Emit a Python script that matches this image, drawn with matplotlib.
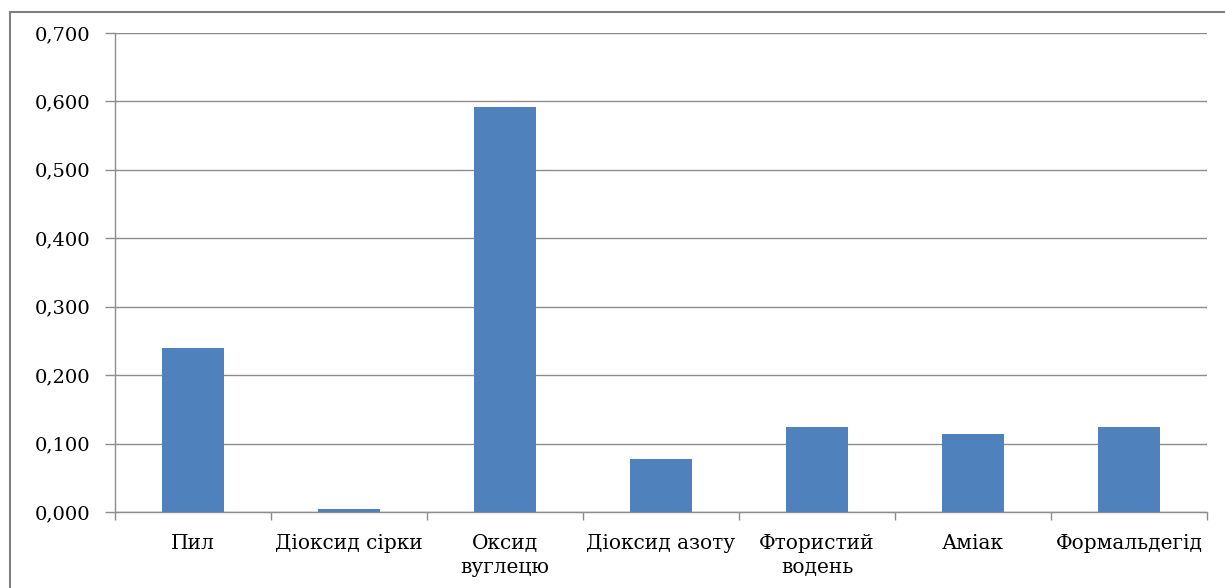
import matplotlib
matplotlib.use('Agg')
import matplotlib.pyplot as plt
import matplotlib.patches as mpatches
from matplotlib.ticker import FuncFormatter, FixedLocator

# Data
categories = ['Пил', 'Діоксид сірки', 'Оксид\nвуглецю', 'Діоксид азоту',
              'Фтористий\nводень', 'Аміак', 'Формальдегід']
values = [0.240, 0.004, 0.592, 0.077, 0.124, 0.114, 0.124]
yticks = [0.0, 0.1, 0.2, 0.3, 0.4, 0.5, 0.6, 0.7]

plt.rcParams['font.family'] = ['DejaVu Serif']

fig = plt.figure(figsize=(12.25, 5.88), dpi=100)
ax = fig.add_axes([115/1225, 1 - 512/588, (1207 - 115)/1225, (512 - 33)/588])

xpos = list(range(len(categories)))
ax.bar(xpos, values, width=0.4, color='#4F81BD', zorder=3)

ax.set_xlim(-0.5, len(categories) - 0.5)
ax.set_ylim(0, 0.7)
ax.set_yticks(yticks)
ax.yaxis.set_major_formatter(FuncFormatter(lambda v, p: ('%.3f' % v).replace('.', ',')))
ax.yaxis.grid(True, color='#8c8c8c', lw=1.0, zorder=0)

# category labels centred, tick marks on the boundaries
ax.xaxis.set_major_locator(FixedLocator([x - 0.5 for x in xpos] + [len(categories) - 0.5]))
ax.xaxis.set_major_formatter(FuncFormatter(lambda v, p: ''))
ax.xaxis.set_minor_locator(FixedLocator(xpos))
ax.set_xticklabels(categories, minor=True)
ax.tick_params(axis='x', which='major', length=6, color='#8c8c8c', width=1)
ax.tick_params(axis='x', which='minor', length=0, pad=16, labelsize=14.5)
for lbl in ax.get_xticklabels(minor=True):
    lbl.set_linespacing(1.3)
    lbl.set_verticalalignment('top')
ax.tick_params(axis='y', length=7, color='#8c8c8c', width=1, pad=11, labelsize=14)

for side in ['top', 'right']:
    ax.spines[side].set_visible(False)
for side in ['left', 'bottom']:
    ax.spines[side].set_color('#8c8c8c')
    ax.spines[side].set_linewidth(1.0)

# outer chart frame (cropped at right and bottom)
frame = mpatches.Rectangle((10/1225, -0.1), 1.2, 1.1 - 12/588, transform=fig.transFigure,
                           fill=False, ec='#7f7f7f', lw=1.5)
fig.patches.append(frame)

fig.savefig('out.png', dpi=100)
